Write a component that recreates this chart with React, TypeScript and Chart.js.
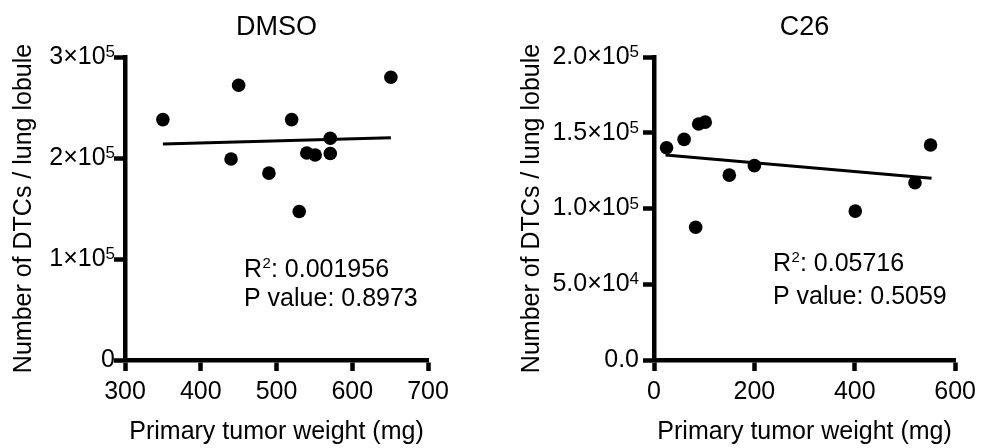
import React, { useEffect, useRef } from "react";
import { Chart, registerables } from "chart.js";

Chart.register(...registerables);

const FONT = "'Liberation Sans', Arial, Helvetica, sans-serif";

// ---------- DMSO data ----------
const dmsoTitle = "DMSO";
const dmsoWeight = [350, 450, 440, 490, 520, 530, 540, 551, 571, 571, 651];
const dmsoDTCs = [238000, 272000, 199000, 185000, 238000, 147000, 205000, 203000, 219500, 204500, 280000];
const dmsoFitX = [350, 651];
const dmsoFitY = [213900, 220000];
const dmsoXTicks = [300, 400, 500, 600, 700];
const dmsoYTicks = [0, 100000, 200000, 300000];
const dmsoYTickBase = ["0", "1×10", "2×10", "3×10"];
const dmsoYTickExp = ["", "5", "5", "5"];
const dmsoR2 = "0.001956";
const dmsoP = "0.8973";

// ---------- C26 data ----------
const c26Title = "C26";
const c26Weight = [25, 60, 89, 102, 83, 150, 200, 401, 520, 551];
const c26DTCs = [140100, 145600, 155800, 157000, 87600, 122000, 128300, 98300, 117000, 141900];
const c26FitX = [23, 553];
const c26FitY = [135300, 119900];
const c26XTicks = [0, 200, 400, 600];
const c26YTicks = [0, 50000, 100000, 150000, 200000];
const c26YTickBase = ["0.0", "5.0×10", "1.0×10", "1.5×10", "2.0×10"];
const c26YTickExp = ["", "4", "5", "5", "5"];
const c26R2 = "0.05716";
const c26P = "0.5059";

const xAxisTitle = "Primary tumor weight (mg)";
const yAxisTitle = "Number of DTCs / lung lobule";

type Panel = {
  title: string;
  xs: number[];
  ys: number[];
  fitX: number[];
  fitY: number[];
  xTicks: number[];
  yTicks: number[];
  yBase: string[];
  yExp: string[];
  r2: string;
  p: string;
  left: number;
  yAxisWidth: number;
  yTitlePad: number;
  padRight: number;
  yLabelGap: number;
  rY: number;
  pY: number;
};

const panels: Panel[] = [
  {
    title: dmsoTitle, xs: dmsoWeight, ys: dmsoDTCs, fitX: dmsoFitX, fitY: dmsoFitY,
    xTicks: dmsoXTicks, yTicks: dmsoYTicks, yBase: dmsoYTickBase, yExp: dmsoYTickExp, r2: dmsoR2, p: dmsoP,
    left: 0, yAxisWidth: 125, yTitlePad: 9, padRight: 63, yLabelGap: 10, rY: 220, pY: 249,
  },
  {
    title: c26Title, xs: c26Weight, ys: c26DTCs, fitX: c26FitX, fitY: c26FitY,
    xTicks: c26XTicks, yTicks: c26YTicks, yBase: c26YTickBase, yExp: c26YTickExp, r2: c26R2, p: c26P,
    left: 491, yAxisWidth: 163, yTitlePad: 26, padRight: 24, yLabelGap: 15, rY: 214, pY: 247,
  },
];

const statsPlugin = {
  id: "stats",
  afterDatasetsDraw(chart: any, _args: any, opts: any) {
    const { ctx, chartArea } = chart;
    const x0 = chartArea.left + opts.dx;
    const yR = chartArea.top + opts.rY;
    const yP = chartArea.top + opts.pY;
    ctx.save();
    ctx.fillStyle = "#000";
    ctx.textAlign = "left";
    ctx.textBaseline = "alphabetic";
    ctx.font = `25px ${FONT}`;
    ctx.fillText("R", x0, yR);
    const wR = ctx.measureText("R").width;
    ctx.font = `15px ${FONT}`;
    ctx.fillText("2", x0 + wR + 0.5, yR - 9);
    const w2 = ctx.measureText("2").width;
    ctx.font = `25px ${FONT}`;
    ctx.fillText(": " + opts.r2, x0 + wR + w2 + 0.5, yR);
    ctx.fillText("P value: " + opts.p, x0, yP);
    ctx.restore();
  },
};

// y tick labels with a real superscript exponent, placed at the y scale's own tick pixels
const yLabelsPlugin = {
  id: "yLabels",
  afterDraw(chart: any, _args: any, opts: any) {
    const { ctx, chartArea } = chart;
    const yScale = chart.scales.y;
    const xr = chartArea.left - opts.gap;
    ctx.save();
    ctx.fillStyle = "#000";
    opts.values.forEach((v: number, i: number) => {
      const y = yScale.getPixelForValue(v);
      const base = opts.base[i];
      const exp = opts.exp[i];
      ctx.font = `17px ${FONT}`;
      const we = exp ? ctx.measureText(exp).width : 0;
      ctx.font = `25px ${FONT}`;
      ctx.textAlign = "right";
      ctx.textBaseline = "middle";
      ctx.fillText(base, xr - we, y);
      if (exp) {
        ctx.font = `17px ${FONT}`;
        ctx.textAlign = "left";
        ctx.textBaseline = "alphabetic";
        ctx.fillText(exp, xr - we, y);
      }
    });
    ctx.restore();
  },
};

function makeConfig(p: Panel): any {
  const points = p.xs.map((x, i) => ({ x, y: p.ys[i] }));
  const fit = p.fitX.map((x, i) => ({ x, y: p.fitY[i] }));
  const tickFont = { family: FONT, size: 25 };
  const gridOpts = {
    display: true,
    drawOnChartArea: false,
    drawTicks: true,
    tickLength: 11,
    tickWidth: 4.5,
    tickColor: "#000",
  };
  return {
    type: "scatter",
    data: {
      datasets: [
        {
          type: "line",
          data: fit,
          borderColor: "#000",
          borderWidth: 3,
          pointRadius: 0,
          fill: false,
          tension: 0,
          order: 2,
        },
        {
          type: "scatter",
          data: points,
          backgroundColor: "#000",
          borderColor: "#000",
          borderWidth: 0,
          pointRadius: 6.8,
          pointHoverRadius: 6.8,
          order: 1,
        },
      ],
    },
    options: {
      responsive: false,
      animation: false,
      events: [],
      layout: { padding: { left: 0, right: p.padRight, top: 0, bottom: 0 } },
      plugins: {
        legend: { display: false },
        tooltip: { enabled: false },
        title: {
          display: true,
          text: p.title,
          fullSize: false,
          color: "#000",
          font: { family: FONT, size: 27, weight: "normal" },
          padding: { top: 11, bottom: 13.6 },
        },
        stats: { dx: 119, rY: p.rY, pY: p.pY, r2: p.r2, p: p.p },
        yLabels: { values: p.yTicks, base: p.yBase, exp: p.yExp, gap: p.yLabelGap },
      },
      scales: {
        x: {
          type: "linear",
          min: p.xTicks[0],
          max: p.xTicks[p.xTicks.length - 1],
          afterBuildTicks: (s: any) => {
            s.ticks = p.xTicks.map((v) => ({ value: v }));
          },
          afterFit: (s: any) => {
            s.height = 88;
          },
          ticks: { color: "#000", font: tickFont, padding: 6, maxRotation: 0, autoSkip: false },
          grid: gridOpts,
          border: { display: true, color: "#000", width: 4.5 },
          title: { display: true, text: xAxisTitle, color: "#000", font: tickFont, padding: { top: 0, bottom: 1 } },
        },
        y: {
          type: "linear",
          min: p.yTicks[0],
          max: p.yTicks[p.yTicks.length - 1],
          afterBuildTicks: (s: any) => {
            s.ticks = p.yTicks.map((v) => ({ value: v }));
          },
          afterFit: (s: any) => {
            s.width = p.yAxisWidth;
          },
          ticks: { display: false, autoSkip: false },
          grid: gridOpts,
          border: { display: true, color: "#000", width: 4.5 },
          title: { display: true, text: yAxisTitle, color: "#000", font: tickFont, padding: { top: p.yTitlePad, bottom: 0 } },
        },
      },
    },
    plugins: [statsPlugin, yLabelsPlugin],
  };
}

function ChartPanel({ panel }: { panel: Panel }) {
  const ref = useRef<HTMLCanvasElement>(null);
  useEffect(() => {
    const chart = new Chart(ref.current as HTMLCanvasElement, makeConfig(panel));
    return () => chart.destroy();
  }, [panel]);
  return (
    <canvas
      ref={ref}
      width={491}
      height={448}
      style={{ position: "absolute", left: panel.left, top: 0, width: 491, height: 448 }}
    />
  );
}

export default function App() {
  return (
    <div style={{ position: "absolute", left: 0, top: 0, width: 982, height: 448, background: "#fff", overflow: "hidden" }}>
      {panels.map((p) => (
        <ChartPanel key={p.title} panel={p} />
      ))}
    </div>
  );
}
